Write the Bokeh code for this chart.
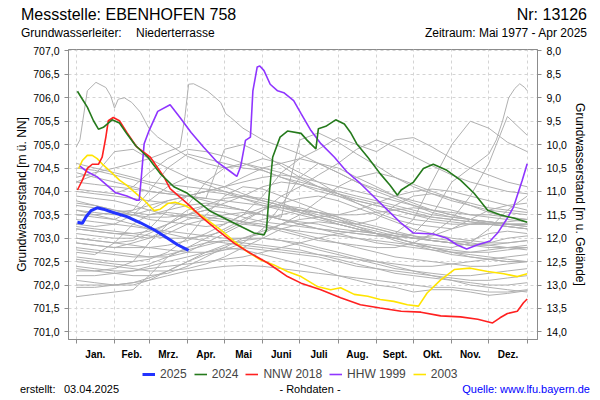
from bokeh.plotting import figure
from bokeh.layouts import column
from bokeh.models import (Range1d, LinearAxis, FixedTicker, CustomJSTickFormatter, Grid,
                          Legend, LegendItem, ColumnDataSource, Div)
from bokeh.embed import file_html
from bokeh.resources import INLINE

# ---------------- data ----------------
station_title = "Messstelle: EBENHOFEN 758"
station_number = "Nr: 13126"
aquifer_label = "Grundwasserleiter:"
aquifer_name = "Niederterrasse"
period_text = "Zeitraum: Mai 1977 - Apr 2025"
created_label = "erstellt:"
created_date = "03.04.2025"
data_note = "- Rohdaten -"
source_text = "Quelle: www.lfu.bayern.de"

month_bounds = [0, 31, 59, 90, 120, 151, 181, 212, 243, 273, 304, 334, 365]
month_names = ["Jan.", "Feb.", "Mrz.", "Apr.", "Mai", "Juni", "Juli", "Aug.", "Sept.", "Okt.", "Nov.", "Dez."]
level_ticks = [701.0, 701.5, 702.0, 702.5, 703.0, 703.5, 704.0, 704.5, 705.0, 705.5, 706.0, 706.5, 707.0]
depth_ticks = [8.0, 8.5, 9.0, 9.5, 10.0, 10.5, 11.0, 11.5, 12.0, 12.5, 13.0, 13.5, 14.0]
ground_level = 715.0

d2025 = [1, 5, 8, 12, 17, 22, 30, 41, 52, 63, 74, 82, 91]
v2025 = [703.34, 703.32, 703.46, 703.59, 703.65, 703.62, 703.55, 703.46, 703.33, 703.18, 703.0, 702.86, 702.74]

d2024 = [1, 5, 9, 14, 18, 22, 29, 35, 41, 48, 58, 68, 79, 90, 109, 128, 144, 152, 154, 156,
         159, 165, 171, 182, 187, 194, 196, 202, 210, 217, 222, 227, 236, 246, 254, 260, 263, 273, 281, 289,
         300, 311, 322, 333, 343, 354, 365]
v2024 = [706.14, 705.97, 705.80, 705.51, 705.33, 705.37, 705.53, 705.46, 705.23, 704.98,
         704.73, 704.38, 704.10, 703.96, 703.57, 703.32, 703.11, 703.07, 703.18, 703.88,
         704.73, 705.16, 705.29, 705.24, 705.09, 704.91, 705.34, 705.39, 705.53, 705.44,
         705.26, 705.02, 704.73, 704.38, 704.13, 703.92, 704.03, 704.20, 704.49, 704.58,
         704.45, 704.24, 703.96, 703.60, 703.50, 703.43, 703.34]

d2018 = [1, 5, 9, 13, 18, 21, 24, 26, 30, 35, 41, 49, 60, 71, 76, 90, 101, 114, 128, 141,
         155, 171, 182, 198, 214, 230, 246, 263, 279, 295, 311, 325, 337, 343, 349, 357, 362, 365]
v2018 = [704.03, 704.24, 704.49, 704.58, 704.58, 704.73, 705.16, 705.51, 705.58, 705.51,
         705.26, 704.95, 704.73, 704.31, 704.06, 703.74, 703.46, 703.18, 702.89, 702.68,
         702.47, 702.18, 702.04, 701.90, 701.73, 701.58, 701.51, 701.44, 701.42, 701.34,
         701.32, 701.27, 701.19, 701.30, 701.39, 701.44, 701.62, 701.70]

d1999 = [3, 9, 17, 25, 32, 41, 49, 51, 52.5, 55, 59, 66, 76, 84, 93, 103, 114, 125, 130, 133,
         137, 141, 143, 146.5, 148.6, 152, 157, 163, 168, 176, 182, 190, 198, 209, 219, 230, 238, 252, 263, 273,
         289, 300, 308, 316, 325, 335, 341, 349, 354, 361, 365]
v1999 = [704.54, 704.42, 704.31, 704.13, 703.97, 703.90, 703.81, 703.81, 704.24, 705.02,
         705.30, 705.71, 705.85, 705.58, 705.26, 704.95, 704.63, 704.42, 704.32, 704.52,
         705.09, 705.16, 706.15, 706.66, 706.68, 706.58, 706.29, 706.15, 706.11, 705.94,
         705.66, 705.30, 705.02, 704.73, 704.42, 704.17, 703.96, 703.60, 703.32, 703.11,
         703.09, 703.00, 702.86, 702.77, 702.86, 702.94, 703.11, 703.43, 703.67, 704.24, 704.59]

d2003 = [2, 5, 9, 13, 17, 22, 28, 35, 41, 47, 55, 63, 68, 74, 80, 87, 95, 106, 117, 128,
         138, 149, 160, 171, 182, 195, 206, 214, 225, 236, 246, 257, 268, 277, 284, 295, 306, 319, 333, 346,
         357, 365]
v2003 = [704.49, 704.66, 704.77, 704.77, 704.70, 704.56, 704.42, 704.24, 704.13, 703.99,
         703.81, 703.59, 703.62, 703.74, 703.77, 703.71, 703.60, 703.39, 703.18, 702.93,
         702.72, 702.54, 702.43, 702.29, 702.18, 701.97, 701.90, 701.94, 701.80, 701.76,
         701.69, 701.65, 701.58, 701.55, 701.83, 702.11, 702.33, 702.36, 702.29, 702.24,
         702.18, 702.24]

# other years (grey), half-monthly readings
gray_days = [0, 15, 31, 46, 59, 74, 90, 105, 120, 135, 151, 166, 181, 196, 212, 227, 243, 258, 273, 288, 304, 319, 334, 349, 365]
gray_levels = [
    [704.5, 704.45, 704.35, 704.25, 704.15, 704.0, 703.9, 703.85, 704.9, 705.0, 704.8, 704.55, 704.3, 704.1, 703.9, 703.75, 703.6, 703.5, 703.4, 703.35, 703.3, 703.3, 703.3, 703.25, 703.2],
    [704.2, 704.35, 704.85, 704.9, 704.7, 704.5, 704.3, 704.15, 704.0, 703.85, 703.7, 703.6, 703.5, 703.4, 703.3, 703.2, 703.1, 703.05, 703.0, 702.95, 702.9, 702.95, 703.1, 703.15, 703.1],
    [703.2, 703.15, 703.1, 703.05, 703.0, 703.1, 703.3, 703.4, 703.5, 703.55, 703.5, 703.45, 705.1, 705.25, 705.05, 704.8, 704.55, 704.3, 704.1, 703.95, 703.8, 703.7, 703.6, 703.55, 703.5],
    [703.8, 703.7, 703.6, 703.55, 703.5, 703.6, 703.7, 703.75, 703.7, 703.6, 703.5, 703.4, 703.3, 703.2, 703.15, 703.1, 703.05, 703.1, 703.4, 704.2, 705.0, 705.5, 705.35, 705.05, 704.85],
    [702.9, 702.85, 702.8, 702.9, 703.0, 703.2, 703.4, 703.5, 703.45, 703.35, 703.25, 703.15, 703.05, 702.95, 702.9, 702.85, 702.8, 702.8, 702.9, 703.1, 703.4, 703.9, 704.6, 705.6, 705.2],
    [703.6, 703.55, 703.5, 703.5, 703.6, 703.8, 703.9, 704.0, 704.1, 704.3, 704.5, 704.6, 704.7, 704.9, 705.15, 705.0, 704.85, 705.1, 705.15, 704.95, 704.7, 704.5, 704.35, 704.2, 704.1],
    [703.5, 703.45, 703.4, 703.6, 704.0, 704.5, 704.8, 704.7, 704.6, 704.5, 704.45, 704.3, 704.15, 704.0, 703.9, 703.8, 703.7, 703.6, 703.5, 703.4, 703.35, 703.3, 703.3, 703.35, 703.4],
    [704.4, 704.3, 704.2, 704.1, 704.0, 703.95, 703.9, 703.85, 703.8, 703.75, 703.7, 703.65, 703.6, 703.55, 703.5, 703.5, 703.55, 703.6, 703.65, 703.6, 703.55, 703.5, 703.5, 703.45, 703.4],
    [704.0, 703.95, 703.9, 703.85, 703.8, 703.75, 703.7, 704.2, 704.5, 704.6, 704.5, 704.4, 704.25, 704.1, 703.95, 703.8, 703.7, 703.6, 703.5, 703.45, 703.4, 703.35, 703.3, 703.25, 703.2],
    [703.3, 703.25, 703.3, 703.5, 703.8, 704.1, 704.3, 704.2, 704.1, 703.95, 703.8, 703.7, 703.55, 703.45, 703.35, 703.25, 703.15, 703.05, 703.0, 702.95, 702.9, 702.85, 702.9, 703.0, 703.05],
    [702.3, 702.3, 702.35, 702.5, 702.9, 703.3, 703.6, 703.7, 703.65, 703.6, 703.5, 703.4, 703.3, 703.2, 703.1, 703.0, 702.9, 702.85, 702.8, 702.75, 702.7, 702.7, 702.75, 702.8, 702.85],
    [702.6, 702.55, 702.5, 702.5, 702.55, 702.7, 703.0, 703.5, 703.9, 704.1, 704.05, 703.9, 703.75, 703.6, 703.45, 703.3, 703.2, 703.1, 703.0, 702.95, 702.9, 702.85, 702.8, 702.8, 702.75],
    [702.8, 702.75, 702.7, 702.65, 702.6, 702.6, 702.7, 702.9, 703.1, 703.3, 703.4, 703.5, 703.6, 703.55, 703.45, 703.35, 703.25, 703.15, 703.05, 702.95, 702.9, 702.85, 702.85, 702.9, 702.95],
    [703.0, 702.95, 702.9, 702.85, 702.8, 702.75, 702.7, 702.7, 702.75, 702.9, 703.2, 703.7, 704.3, 704.6, 704.5, 704.3, 704.1, 703.9, 703.75, 703.6, 703.5, 703.4, 703.35, 703.3, 703.25],
    [702.1, 702.05, 702.0, 702.0, 702.1, 702.3, 702.5, 702.65, 702.75, 702.8, 702.75, 702.7, 702.65, 702.6, 702.5, 702.4, 702.35, 702.3, 702.25, 702.2, 702.15, 702.1, 702.1, 702.15, 702.2],
    [701.75, 701.8, 701.85, 701.9, 702.2, 702.6, 702.8, 702.9, 702.95, 702.9, 702.85, 702.8, 702.75, 702.65, 702.55, 702.45, 702.35, 702.25, 702.2, 702.15, 702.1, 702.05, 702.0, 702.0, 702.05],
    [702.4, 702.35, 702.3, 702.3, 702.4, 702.5, 702.6, 702.7, 702.8, 702.75, 702.65, 702.55, 702.45, 702.35, 702.2, 702.1, 702.0, 701.95, 701.85, 701.9, 701.9, 701.85, 701.78, 701.82, 701.88],
    [703.6, 703.5, 703.4, 703.3, 703.2, 703.1, 703.0, 702.95, 702.9, 702.85, 702.8, 702.75, 702.7, 702.65, 702.6, 702.55, 702.5, 702.45, 702.4, 702.4, 702.45, 702.5, 702.55, 702.6, 702.65],
    [704.2, 704.15, 704.1, 704.05, 704.0, 703.95, 703.9, 703.8, 703.7, 703.6, 703.5, 703.4, 703.35, 703.3, 703.2, 703.15, 703.1, 703.05, 703.0, 703.05, 703.2, 703.4, 703.6, 703.7, 703.75],
    [703.75, 703.7, 703.6, 703.5, 703.4, 703.35, 703.3, 703.25, 703.3, 703.5, 703.9, 704.4, 704.7, 704.6, 704.4, 704.2, 704.0, 703.85, 703.7, 703.55, 703.45, 703.4, 703.35, 703.3, 703.3],
    [702.7, 702.65, 702.9, 703.3, 703.5, 703.55, 703.5, 703.45, 703.4, 703.35, 703.3, 703.2, 703.1, 703.0, 702.9, 702.8, 702.7, 702.6, 702.55, 702.5, 702.45, 702.4, 702.4, 702.45, 702.5],
    [702.2, 702.2, 702.25, 702.3, 702.35, 702.4, 702.45, 702.5, 702.55, 702.6, 702.7, 702.8, 702.9, 703.0, 703.1, 703.15, 703.1, 703.0, 702.9, 702.8, 702.7, 702.6, 702.55, 702.5, 702.5],
    [703.1, 703.05, 703.0, 703.0, 703.2, 703.6, 703.9, 704.0, 703.95, 703.85, 703.75, 703.65, 703.55, 703.45, 703.35, 703.3, 703.4, 703.7, 703.9, 703.95, 703.85, 703.7, 703.55, 703.45, 703.4],
    [703.4, 703.35, 703.3, 703.25, 703.2, 703.15, 703.1, 703.05, 703.0, 703.0, 703.1, 703.3, 703.5, 703.8, 704.1, 704.3, 704.4, 704.3, 704.15, 704.0, 703.85, 703.75, 703.65, 703.6, 703.55],
    [702.5, 702.45, 702.4, 702.35, 702.3, 702.3, 702.35, 702.45, 702.6, 702.8, 703.0, 703.2, 703.3, 703.35, 703.3, 703.2, 703.1, 703.0, 702.9, 702.8, 702.7, 702.65, 702.6, 702.55, 702.5],
    [701.95, 701.95, 702.0, 702.05, 702.15, 702.3, 702.5, 702.7, 702.85, 702.95, 703.0, 702.95, 702.9, 702.8, 702.7, 702.6, 702.5, 702.4, 702.3, 702.2, 702.1, 702.0, 701.95, 701.9, 701.85],
    [703.7, 703.65, 703.55, 703.5, 703.45, 703.45, 703.5, 703.6, 703.75, 703.9, 704.1, 704.2, 704.15, 704.05, 703.95, 703.85, 703.75, 703.65, 703.55, 703.45, 703.4, 703.35, 703.3, 703.3, 703.3],
    [702.9, 702.85, 702.8, 702.8, 702.8, 702.85, 702.95, 703.1, 703.3, 703.5, 703.65, 703.7, 703.65, 703.55, 703.4, 703.25, 703.1, 702.95, 702.85, 702.75, 702.65, 702.6, 702.55, 702.5, 702.5],
    [702.0, 702.0, 702.0, 702.05, 702.1, 702.2, 702.3, 702.35, 702.4, 702.42, 702.4, 702.35, 702.3, 702.25, 702.2, 702.15, 702.1, 702.05, 702.0, 701.95, 701.95, 701.9, 701.85, 701.85, 701.9],
    [703.2, 703.15, 703.1, 703.1, 703.15, 703.3, 703.5, 703.7, 703.85, 703.9, 703.85, 703.75, 703.6, 703.45, 703.3, 703.2, 703.1, 703.0, 702.9, 702.85, 702.8, 702.9, 703.2, 703.6, 703.9],
    [704.6, 704.5, 704.4, 704.3, 704.2, 704.15, 704.1, 704.05, 704.0, 703.9, 703.8, 703.7, 703.6, 703.5, 703.4, 703.3, 703.2, 703.1, 703.05, 703.0, 702.95, 702.9, 702.85, 702.8, 702.8],
    [702.55, 702.5, 702.45, 702.4, 702.45, 702.6, 702.8, 703.0, 703.2, 703.4, 703.6, 703.75, 703.85, 703.9, 703.8, 703.65, 703.5, 703.35, 703.2, 703.1, 703.0, 702.95, 702.9, 702.9, 702.95],
    [703.9, 703.85, 703.8, 703.7, 703.6, 703.5, 703.45, 703.4, 703.35, 703.3, 703.25, 703.2, 703.15, 703.1, 703.05, 703.0, 702.95, 702.9, 702.85, 702.8, 702.75, 702.7, 702.7, 702.75, 702.8],
    [702.35, 702.3, 702.25, 702.2, 702.2, 702.25, 702.4, 702.6, 702.8, 703.0, 703.15, 703.3, 703.4, 703.45, 703.5, 703.6, 703.75, 703.9, 704.0, 704.05, 704.0, 703.9, 703.8, 703.7, 703.6],
    [703.5, 703.5, 703.55, 703.6, 703.7, 703.8, 703.9, 704.0, 704.1, 704.2, 704.3, 704.35, 704.3, 704.2, 704.1, 704.0, 703.9, 703.8, 703.7, 703.6, 703.5, 703.4, 703.3, 703.25, 703.2],
    [702.75, 702.7, 702.65, 702.6, 702.6, 702.65, 702.75, 702.85, 702.95, 703.0, 703.0, 702.95, 702.85, 702.75, 702.65, 702.55, 702.45, 702.35, 702.3, 702.25, 702.2, 702.2, 702.25, 702.3, 702.35],
    [704.05, 704.0, 703.95, 704.1, 704.4, 704.7, 704.9, 704.85, 704.75, 704.6, 704.45, 704.3, 704.2, 704.1, 704.0, 703.9, 703.8, 703.7, 703.6, 703.5, 703.45, 703.4, 703.35, 703.3, 703.3],
    [703.25, 703.2, 703.15, 703.1, 703.05, 703.0, 703.0, 703.05, 703.15, 703.35, 703.6, 703.9, 704.1, 704.35, 704.6, 704.9, 705.1, 704.95, 704.75, 704.55, 704.35, 704.2, 704.1, 704.0, 703.95],
]
# grey years with sharp peaks (own reading dates)
gh1_days = [0, 3, 9, 16, 24, 28, 31, 34, 39, 45, 52, 59, 66, 75, 90, 105, 120, 135, 151, 166, 181, 196, 212, 227, 243, 258, 273, 288, 304, 319, 334, 349, 365]
gh1_vals = [704.95, 705.1, 706.15, 706.33, 706.22, 706.04, 705.78, 705.97, 706.0, 705.9, 705.69, 705.34, 705.16, 705.0, 704.75, 704.6, 704.5, 704.55, 704.7, 704.6, 704.4, 704.2, 703.95, 703.75, 703.55, 703.4, 703.3, 703.25, 703.2, 703.3, 703.35, 703.3, 703.25]
gh2_days = [0, 15, 31, 46, 59, 74, 84, 88, 91, 95, 101, 106, 111, 117, 121, 125, 135, 151, 166, 181, 196, 212, 227, 243, 258, 273, 288, 304, 319, 334, 349, 365]
gh2_vals = [704.3, 704.4, 704.5, 704.6, 704.7, 704.85, 704.95, 705.6, 706.29, 706.3, 706.22, 706.15, 706.04, 705.9, 705.66, 705.58, 705.35, 705.1, 704.95, 704.8, 704.6, 704.4, 704.2, 704.05, 703.9, 703.8, 703.7, 703.6, 703.5, 703.45, 703.4, 703.35]
gh3_days = [0, 15, 31, 46, 59, 74, 90, 105, 120, 135, 151, 166, 181, 196, 212, 227, 243, 258, 273, 288, 304, 319, 334, 340, 345, 350, 355, 359, 363, 365]
gh3_vals = [703.0, 702.95, 702.9, 702.95, 703.1, 703.3, 703.5, 703.6, 703.55, 703.45, 703.35, 703.3, 703.25, 703.2, 703.15, 703.1, 703.05, 703.0, 703.1, 703.5, 704.2, 704.5, 704.8, 705.1, 705.5, 706.0, 706.2, 706.3, 706.22, 706.15]

legend_names = ["2025", "2024", "NNW 2018", "HHW 1999", "2003"]

# ---------------- layout constants (page pixels) ----------------
W = 600
TOP_H, MAIN_H, LEG_H, FOOT_H = 44, 318, 22, 16
BL, BR, BT, BB = 68, 63, 5, 22
X0, X1 = -6.23, 373.34
Y0, Y1 = 700.836, 707.032
FONT = "Liberation Sans"
FONT_CSS = "font-family:'Liberation Sans',Arial,sans-serif;"


def span(text, size, top, left=None, right=None, center=None, color="#000000"):
    pos = ""
    if left is not None:
        pos = "left:%spx;" % left
    if right is not None:
        pos = "right:%spx;" % right
    if center is not None:
        pos = "left:%spx;transform:translateX(-50%%);" % center
    return ('<span style="position:absolute;top:%spx;%sfont-size:%spx;line-height:%spx;color:%s;">%s</span>'
            % (top, pos, size, size, color, text))


def box(height, inner):
    return ('<div style="position:relative;width:%dpx;height:%dpx;white-space:nowrap;%s">%s</div>'
            % (W, height, FONT_CSS, inner))


# ---------------- header ----------------
header = Div(width=W, height=TOP_H, margin=0, text=box(TOP_H,
    span(station_title, 16, 6.5, left=21) +
    span(station_number, 16, 6.5, right=13) +
    span(aquifer_label, 12, 27.3, left=21) +
    span(aquifer_name, 12, 27.3, left=136) +
    span(period_text, 12, 27.3, right=13)))

# ---------------- main chart ----------------
p = figure(width=W, height=MAIN_H, x_range=Range1d(X0, X1), y_range=Range1d(Y0, Y1),
           x_axis_type=None, y_axis_type=None, title=None,
           toolbar_location=None, output_backend="svg",
           min_border_left=BL, min_border_right=BR, min_border_top=BT, min_border_bottom=BB)
p.outline_line_color = "#8c8c8c"
p.background_fill_color = "white"
p.border_fill_color = "white"

p.add_layout(Grid(dimension=0, ticker=FixedTicker(ticks=month_bounds), grid_line_color="#d4d4d4",
                  grid_line_dash="3 3", grid_line_width=1))
p.add_layout(Grid(dimension=1, ticker=FixedTicker(ticks=level_ticks), grid_line_color="#d4d4d4",
                  grid_line_dash="3 3", grid_line_width=1))

comma = CustomJSTickFormatter(code="return tick.toFixed(1).replace('.', ',');")

ax_l = LinearAxis(ticker=FixedTicker(ticks=level_ticks), formatter=comma,
                  axis_label="Grundwasserstand [m ü. NN]")
p.extra_y_ranges = {"depth": Range1d(ground_level - Y0, ground_level - Y1)}
ax_r = LinearAxis(y_range_name="depth", ticker=FixedTicker(ticks=depth_ticks), formatter=comma,
                  axis_label="Grundwasserstand [m u. Gelände]")
for ax, standoff in ((ax_l, 1), (ax_r, 3)):
    ax.axis_line_color = "#8c8c8c"
    ax.major_tick_line_color = "#8c8c8c"
    ax.minor_tick_line_color = None
    ax.major_tick_out = 4
    ax.major_tick_in = 0
    ax.major_label_standoff = 5
    ax.major_label_text_font = FONT
    ax.major_label_text_font_size = "10.5px"
    ax.major_label_text_color = "#000000"
    ax.axis_label_text_font = FONT
    ax.axis_label_text_font_size = "12px"
    ax.axis_label_text_font_style = "normal"
    ax.axis_label_text_color = "#000000"
    ax.axis_label_standoff = standoff
p.add_layout(ax_l, "left")
p.add_layout(ax_r, "right")

mids = [(month_bounds[i] + month_bounds[i + 1]) / 2 for i in range(12)]
ax_b = LinearAxis(ticker=FixedTicker(ticks=mids, minor_ticks=month_bounds),
                  major_label_overrides={m: n for m, n in zip(mids, month_names)})
ax_b.axis_line_color = "#8c8c8c"
ax_b.major_tick_line_color = None
ax_b.major_tick_out = 0
ax_b.major_tick_in = 0
ax_b.minor_tick_line_color = "#8c8c8c"
ax_b.minor_tick_out = 4
ax_b.minor_tick_in = 0
ax_b.major_label_standoff = 5
ax_b.major_label_text_font = FONT
ax_b.major_label_text_font_size = "10px"
ax_b.major_label_text_font_style = "bold"
ax_b.major_label_text_color = "#000000"
p.add_layout(ax_b, "below")

gxs = [gray_days] * len(gray_levels) + [gh1_days, gh2_days, gh3_days]
gys = list(gray_levels) + [gh1_vals, gh2_vals, gh3_vals]
p.multi_line(xs="xs", ys="ys", source=ColumnDataSource(dict(xs=gxs, ys=gys)),
             line_color="#b0b0b0", line_width=1)

series = {
    "2003": (d2003, v2003, "#ffe400", 1.6),
    "HHW 1999": (d1999, v1999, "#8f35ff", 1.6),
    "NNW 2018": (d2018, v2018, "#ff2020", 1.6),
    "2024": (d2024, v2024, "#257a1c", 1.6),
    "2025": (d2025, v2025, "#2233ff", 3),
}
for name in ["2003", "HHW 1999", "NNW 2018", "2024", "2025"]:
    xs, ys, col, lw = series[name]
    p.line(xs, ys, line_color=col, line_width=lw)

# ---------------- legend strip (same series; the strip's ranges keep them out of view) ----------------
leg = figure(width=W, height=LEG_H, x_range=Range1d(0, 1), y_range=Range1d(0, 1),
             x_axis_type=None, y_axis_type=None, title=None,
             toolbar_location=None, output_backend="svg",
             min_border_left=BL, min_border_right=BR, min_border_top=0, min_border_bottom=0)
leg.outline_line_color = None
leg.background_fill_color = "white"
leg.border_fill_color = "white"
items = []
for name in legend_names:
    xs, ys, col, lw = series[name]
    r = leg.line(xs, ys, line_color=col, line_width=lw)
    items.append(LegendItem(label=name, renderers=[r]))
legend = Legend(items=items, location=(74, 3), orientation="horizontal",
                glyph_width=13, glyph_height=12, label_standoff=5, spacing=7,
                padding=0, margin=0, border_line_color=None, background_fill_alpha=0,
                label_text_font=FONT, label_text_font_size="12px", label_height=12)
leg.add_layout(legend)

# ---------------- footer ----------------
footer = Div(width=W, height=FOOT_H, margin=0, text=box(FOOT_H,
    span(created_label, 11, 0, left=20) +
    span(created_date, 11, 0, left=64) +
    span(data_note, 11, 0, center=310) +
    span(source_text, 11, 0, right=10, color="#0000ff")))

layout = column(header, p, leg, footer, spacing=0)
open("out.html", "w").write(file_html(layout, INLINE))
